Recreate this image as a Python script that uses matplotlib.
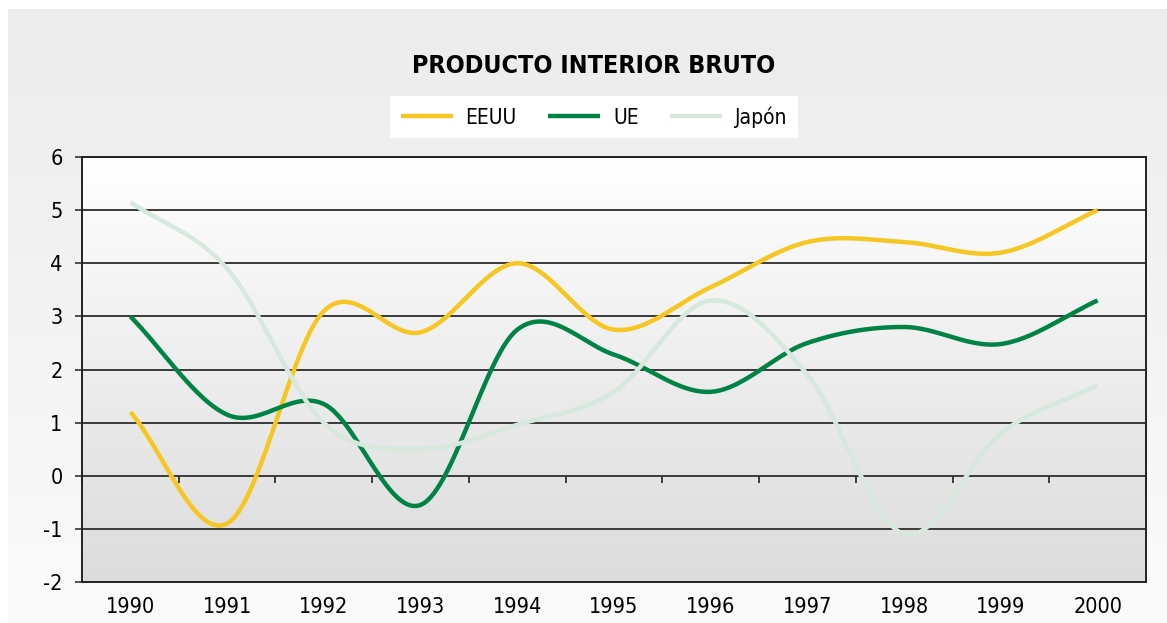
import numpy as np
import matplotlib
matplotlib.use('Agg')
import matplotlib.pyplot as plt

# data
years = ['1990', '1991', '1992', '1993', '1994', '1995', '1996', '1997', '1998', '1999', '2000']
eeuu = [1.2, -0.9, 3.1, 2.7, 4.0, 2.75, 3.55, 4.4, 4.4, 4.2, 5.0]
ue = [3.0, 1.15, 1.35, -0.55, 2.75, 2.28, 1.58, 2.5, 2.8, 2.48, 3.3]
japon = [5.15, 3.9, 1.0, 0.5, 0.96, 1.58, 3.3, 1.9, -1.1, 0.8, 1.7]
y_ticks = [-2, -1, 0, 1, 2, 3, 4, 5, 6]

colors = {'EEUU': '#F6C623', 'UE': '#008345', 'Japón': '#D6E9DC'}

plt.rcParams['font.family'] = ['DejaVu Sans']
plt.rcParams['font.stretch'] = 'condensed'


def smooth(x, y, steps=30):
    # Catmull-Rom spline through the points, like a smoothed line in a spreadsheet
    x = np.asarray(x, float)
    y = np.asarray(y, float)
    xs, ys = [], []
    n = len(x)
    for i in range(n - 1):
        x0, x1 = x[i], x[i + 1]
        y0, y1 = y[i], y[i + 1]
        m0 = (y[i + 1] - y[i - 1]) / (x[i + 1] - x[i - 1]) * (x1 - x0) if i > 0 else (y1 - y0)
        m1 = (y[i + 2] - y[i]) / (x[i + 2] - x[i]) * (x1 - x0) if i < n - 2 else (y1 - y0)
        t = np.linspace(0, 1, steps)
        h00 = 2 * t**3 - 3 * t**2 + 1
        h10 = t**3 - 2 * t**2 + t
        h01 = -2 * t**3 + 3 * t**2
        h11 = t**3 - t**2
        xs.append(x0 + (x1 - x0) * t)
        ys.append(h00 * y0 + h10 * m0 + h01 * y1 + h11 * m1)
    return np.concatenate(xs), np.concatenate(ys)


fig = plt.figure(figsize=(11.67, 6.23), dpi=100, facecolor='white')

# grey panel behind everything
bg = fig.add_axes([8 / 1167, 0, 1 - 8 / 1167, 1 - 9 / 623], zorder=-10)
grad = np.linspace(0, 1, 256).reshape(-1, 1)
bg.imshow(grad, aspect='auto', cmap=matplotlib.colors.LinearSegmentedColormap.from_list('p', ['#ececec', '#fbfbfb']),
          extent=[0, 1, 0, 1], origin='upper')
bg.axis('off')

ax = fig.add_axes([82 / 1167, 1 - 582 / 623, (1146 - 82) / 1167, (582 - 157) / 623])
ax.set_facecolor('none')
ax.imshow(grad, aspect='auto', cmap=matplotlib.colors.LinearSegmentedColormap.from_list('a', ['#ffffff', '#dcdcdc']),
          extent=[0, 1, 0, 1], origin='upper', transform=ax.transAxes, zorder=0)

x = np.arange(len(years))
for name, vals in [('EEUU', eeuu), ('UE', ue), ('Japón', japon)]:
    sx, sy = smooth(x, vals)
    ax.plot(sx, sy, color=colors[name], lw=3.2, label=name, zorder=3, solid_capstyle='butt')

ax.set_xlim(-0.5, len(years) - 0.5)
ax.set_ylim(-2, 6)
ax.set_yticks(y_ticks)
ax.set_yticklabels([str(v) for v in y_ticks], fontsize=15.5)
ax.yaxis.grid(True, color='#3a3a3a', lw=1.4, zorder=1)
ax.set_axisbelow(False)
for g in ax.get_ygridlines():
    g.set_zorder(1)
ax.tick_params(axis='y', direction='out', length=5, width=1.2, color='#333333', pad=9)

ax.set_xticks(x)
ax.set_xticklabels(years, fontsize=15.5)
ax.tick_params(axis='x', length=0, pad=11)

for side in ['left', 'right', 'bottom', 'top']:
    ax.spines[side].set_color('#222222')
    ax.spines[side].set_linewidth(1.4)
    ax.spines[side].set_zorder(4)

# category boundary ticks on the zero line
sec = ax.secondary_xaxis(0.25)
sec.set_xticks(np.arange(-0.5, len(years), 1.0))
sec.set_xticklabels([])
sec.spines['bottom'].set_visible(False)
sec.tick_params(direction='out', length=5, width=1.2, color='#222222')

fig.text(594 / 1167, 1 - 66 / 623, 'PRODUCTO INTERIOR BRUTO', ha='center', va='center',
         fontsize=18, fontweight='bold')

leg = fig.legend(loc='center', bbox_to_anchor=(594 / 1167, 1 - 117 / 623), ncol=3, fontsize=15,
                 frameon=True, fancybox=False, handlelength=2.5, handletextpad=0.62, columnspacing=1.5,
                 borderpad=0.5, borderaxespad=0)
leg.get_frame().set_facecolor('white')
leg.get_frame().set_edgecolor('none')
leg.get_frame().set_alpha(1)

fig.savefig('out.png', dpi=100, facecolor=fig.get_facecolor())
